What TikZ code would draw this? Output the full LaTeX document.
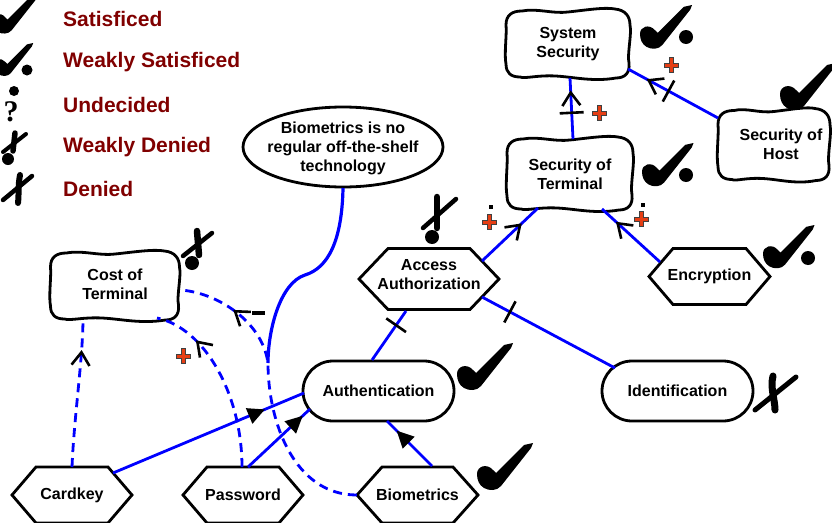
\documentclass[tikz,border=0pt]{standalone}
\usepackage{fontspec}
\setmainfont{Liberation Sans}
\newfontfamily\qmarkfont{Liberation Serif}
\usetikzlibrary{decorations.markings}

\definecolor{legendred}{RGB}{128,0,0}
\definecolor{linkblue}{RGB}{0,0,255}
\definecolor{plusred}{RGB}{230,62,20}

\tikzset{
  outl/.style={draw=black, line width=2.8pt},
  lbl/.style={font=\fontsize{16}{19}\selectfont\bfseries, align=center, inner sep=0pt, draw=none, shape=rectangle},
  legendtext/.style={font=\fontsize{21}{24}\selectfont\bfseries, text=legendred, anchor=west, inner sep=0pt},
  link/.style={draw=linkblue, line width=2.8pt},
  contrib/.style={link, dash pattern=on 9pt off 6pt},
  chevron at/.style={postaction={decorate, decoration={markings, mark=at position #1 with {\draw[solid, black, line width=2.6pt, line join=miter] (-13,9) -- (0,0) -- (-13,-9);}}}},
  tri at/.style={postaction={decorate, decoration={markings, mark=at position #1 with {\fill[black] (1,0) -- (-16,8.5) -- (-16,-8.5) -- cycle;}}}},
  tick at/.style={postaction={decorate, decoration={markings, mark=at position #1 with {\draw[solid, black, line width=2.6pt] (0,-12) -- (0,12);}}}},
  xstem/.style={draw=black, line width=7pt, line cap=round},
  xbar/.style={draw=black, line width=5pt, line cap=round},
  chk/.pic={\fill[black] (0,31) .. controls (0,23) and (10,20) .. (16,27) -- (19,30) -- (47,2) -- (56,0) -- (54,5) -- (24,43) .. controls (20,48) and (12,48) .. (7,45) .. controls (2,42) and (0,37) .. (0,31) -- cycle;},
  plussign/.pic={\filldraw[fill=plusred, draw=black!75, line width=0.6pt] (-7,-2) -- (-2,-2) -- (-2,-7.5) -- (2,-7.5) -- (2,-2) -- (7,-2) -- (7,2) -- (2,2) -- (2,7.5) -- (-2,7.5) -- (-2,2) -- (-7,2) -- cycle;},
}

% soft-goal outline: wavy rounded box around a node (name, dx, dy, half width, half height)
\newcommand\cloudshape[5]{%
 \begin{scope}[shift={(#1.center)}, shift={(#2,#3)}]
 \draw[outl] (-#4,-#5+15)
  .. controls (-#4,-#5+5) and (-#4+6,-#5+1) .. (-#4+16,-#5+1)
  .. controls ({-0.5*#4},-#5-2) and ({-0.25*#4},-#5+4) .. (0,-#5+2)
  .. controls ({0.3*#4},-#5) and ({0.6*#4},-#5-3) .. (#4-15,-#5-1)
  .. controls (#4-5,-#5) and (#4,-#5+6) .. (#4,-#5+15)
  .. controls (#4+2,{-0.3*#5}) and (#4-3,{0.3*#5}) .. (#4-1,#5-15)
  .. controls (#4,#5-5) and (#4-5,#5) .. (#4-14,#5)
  .. controls ({0.4*#4},#5+4) and ({0.1*#4},#5-1) .. ({-0.2*#4},#5-2)
  .. controls ({-0.5*#4},#5-3) and ({-0.7*#4},#5+1) .. (-#4+14,#5-1)
  .. controls (-#4+5,#5-1) and (-#4,#5-5) .. (-#4,#5-14)
  .. controls (-#4-2,{0.3*#5}) and (-#4+1,{-0.3*#5}) .. (-#4,-#5+15) -- cycle;
 \end{scope}}

% task outline: elongated hexagon (name, dy, half width, half height, point depth)
\newcommand\hexshape[5]{%
 \begin{scope}[shift={(#1.center)}, shift={(0,#2)}]
 \draw[outl, line join=miter] (-#3,0) -- (-#3+#5,-#4) -- (#3-#5,-#4) -- (#3,0) -- (#3-#5,#4) -- (-#3+#5,#4) -- cycle;
 \end{scope}}

\begin{document}
\begin{tikzpicture}[x=1pt, y=-1pt]
\useasboundingbox (0,0) rectangle (832,522);
\clip (0,0) rectangle (832,522);

% ---------- legend ----------
\pic[scale=0.82] at (-8,-5) {chk};
\pic[scale=0.7] at (-6,43) {chk};
\fill (27,70) circle (5.5);
\fill (14,91) circle (5);
\node[font=\qmarkfont\bfseries\fontsize{30}{30}\selectfont, inner sep=0pt] (qm) at (11,112) {?};
\draw[xstem, line width=5.5pt] (15,133) -- (13,151);
\draw[xbar, line width=4pt] (3,152) -- (26,134);
\fill (8,159) circle (6);
\draw[xstem, line width=6pt] (20,175) .. controls (18,185) and (19,195) .. (18,203);
\draw[xbar, line width=4.5pt] (3,200) -- (32,176);

\node[legendtext] (lg1) at (63,19) {Satisficed};
\node[legendtext] (lg2) at (63,62) {Weakly Satisficed};
\node[legendtext] (lg3) at (63,105) {Undecided};
\node[legendtext] (lg4) at (63,147) {Weakly Denied};
\node[legendtext] (lg5) at (63,189) {Denied};

% ---------- goals and tasks ----------
\node[lbl, minimum width=124pt, minimum height=68pt] (ss) at (568,44) {System\\Security};
\node[lbl, minimum width=126pt, minimum height=72pt] (st) at (570,174) {Security of\\Terminal};
\node[lbl, minimum width=112pt, minimum height=71pt] (sh) at (781,144) {Security of\\Host};
\node[lbl, minimum width=129pt, minimum height=68pt] (ct) at (115,284) {Cost of\\Terminal};
\node[lbl, minimum width=140pt, minimum height=61pt] (aa) at (429,275) {Access\\Authorization};
\node[lbl, minimum width=121pt, minimum height=56pt] (en) at (709.5,276.5) {Encryption};
\node[lbl, minimum width=151pt, minimum height=60pt, rounded corners=30pt, draw=black, line width=2.8pt] (au) at (378.5,391) {Authentication};
\node[lbl, minimum width=151pt, minimum height=60pt, rounded corners=30pt, draw=black, line width=2.8pt] (id) at (677.5,391) {Identification};
\node[lbl, minimum width=120pt, minimum height=56pt] (ck) at (72,495) {Cardkey};
\node[lbl, minimum width=120pt, minimum height=56pt] (pw) at (243,495) {Password};
\node[lbl, minimum width=121pt, minimum height=56pt] (bi) at (417.5,495) {Biometrics};
\node[lbl, minimum width=200pt, minimum height=80pt] (cl) at (343,148) {Biometrics is no\\regular off-the-shelf\\technology};

\cloudshape{ss}{0}{0}{62}{34}
\cloudshape{st}{0}{0}{63}{36}
\cloudshape{sh}{-7}{1}{56}{35.5}
\cloudshape{ct}{0}{2}{64.5}{34}
\hexshape{aa}{4}{70}{30.5}{29}
\hexshape{en}{0}{60.5}{28}{24}
\hexshape{ck}{0}{60}{28}{24}
\hexshape{pw}{0}{60}{28}{24}
\hexshape{bi}{0}{60.5}{28}{25}
\draw[outl] (343,147) ellipse [x radius=100, y radius=40];

% ---------- links ----------
\draw[link, tick at=0.43, chevron at=0.76] ([shift={(3,-35)}]st.center) -- ([shift={(2,34)}]ss.center);
\draw[link, tick at=0.55, chevron at=0.77] ([shift={(-63,-26)}]sh.center) -- ([shift={(60,25)}]ss.center);
\draw[link, chevron at=0.68] ([shift={(53,-14)}]aa.center) -- ([shift={(-32,34)}]st.center);
\draw[link, chevron at=0.73] ([shift={(-49.5,-14.5)}]en.center) -- ([shift={(32,35)}]st.center);
\draw[link, tick at=0.71] ([shift={(-6.5,-31)}]au.center) -- ([shift={(-23,36)}]aa.center);
\draw[link, tick at=0.79] ([shift={(-62.5,-23)}]id.center) -- ([shift={(53,22)}]aa.center);
\draw[link, tri at=0.79] ([shift={(41,-22)}]ck.center) -- ([shift={(-74.5,2)}]au.center);
\draw[link, tri at=0.87] ([shift={(5,-28)}]pw.center) -- ([shift={(-68.5,18)}]au.center);
\draw[link, tri at=0.77] ([shift={(14.5,-29)}]bi.center) -- ([shift={(8.5,30)}]au.center);

% contributions to the cost of the terminal
\coordinate (m) at (268,363);
\draw[contrib, chevron at=0.77] ([shift={(0,-28)}]ck.center) .. controls +(2,-50) and +(0,40) .. ([shift={(-32,34)}]ct.center);
\draw[contrib, chevron at=0.74] ([shift={(-1,-28)}]pw.center) .. controls +(0,-72) and +(48,10) .. ([shift={(42,34)}]ct.center);
\draw[contrib, chevron at=0.80] (bi.west) .. controls +(-62,0) and +(0,60) .. (m) .. controls +(-6,-43) and +(35,2) .. ([shift={(65,6)}]ct.center);

% argument attached to the biometrics contribution
\draw[link, line width=3.2pt] ([shift={(0,40)}]cl.center) .. controls +(-1,53) and +(23,-7) .. (305,275) .. controls +(-25,8) and +(0,-33) .. (m);

% ---------- contribution labels ----------
\pic at (599,113) {plussign};
\pic at (671,65) {plussign};
\pic at (489,222) {plussign};
\fill (489,205) rectangle (493,209);
\pic at (641,219) {plussign};
\fill (641,203) rectangle (645,207);
\pic at (183,356) {plussign};
\fill (252,311) rectangle (265,315);

% ---------- evaluation marks ----------
\pic[scale=0.93] at (640,5) {chk};
\fill (686,37) circle (7);
\pic[scale=0.92] at (642,143) {chk};
\fill (686,175) circle (7);
\pic at (780,63) {chk};
\pic[scale=0.92] at (763,225) {chk};
\fill (808,258) circle (7);
\pic at (457,343) {chk};
\pic at (477,443) {chk};

\draw[xstem] (773,376) .. controls (770,388) and (775,400) .. (775,410);
\draw[xbar] (755,410) -- (796,377);

\draw[xstem, line width=6.5pt] (197,231) -- (199,255);
\draw[xbar, line width=4.5pt] (183,256) -- (212,233);
\fill (192,263) circle (7);

\draw[xstem, line width=6.5pt] (437,197) -- (437,228);
\draw[xbar, line width=4.5pt] (423,228) -- (456,199);
\fill (432,237) circle (7);
\end{tikzpicture}
\end{document}
